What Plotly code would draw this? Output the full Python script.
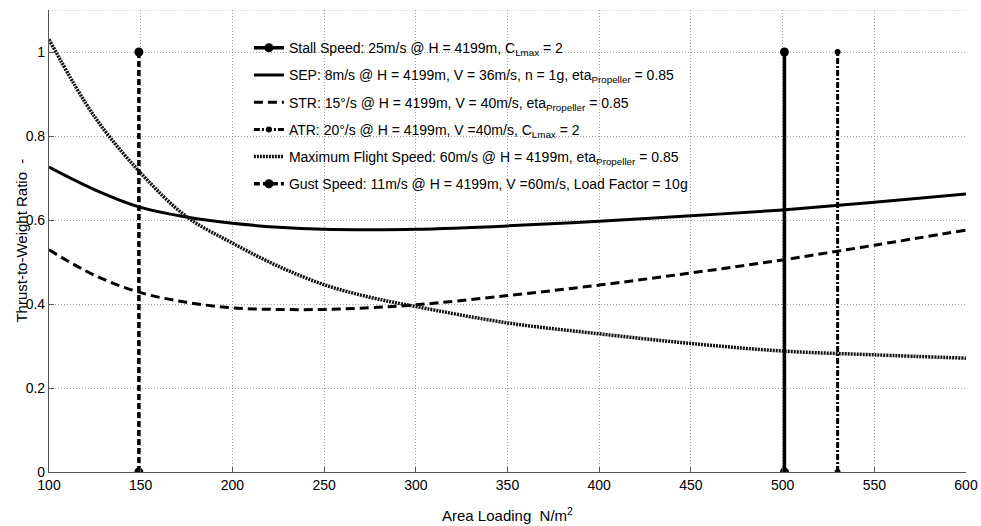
import plotly.graph_objects as go

# Wing (area) loading samples, N/m^2
area_loading = [100, 125, 150, 175, 200, 225, 250, 275, 300, 350, 400, 450, 500, 550, 600]

# Thrust-to-weight ratio curves
sep_tw = [0.726, 0.672, 0.630, 0.607, 0.592, 0.583, 0.578, 0.577, 0.578, 0.586, 0.597, 0.610, 0.624, 0.642, 0.662]
str_tw = [0.529, 0.468, 0.427, 0.404, 0.391, 0.387, 0.387, 0.391, 0.398, 0.420, 0.445, 0.474, 0.505, 0.540, 0.576]
vmax_tw = [1.030, 0.845, 0.712, 0.608, 0.545, 0.490, 0.446, 0.416, 0.394, 0.355, 0.329, 0.306, 0.288, 0.279, 0.271]

# Vertical constraint lines (area loading limits)
stall_x = [501, 501]
atr_x = [530, 530]
gust_x = [149, 149]
vline_y = [0, 1]

x_ticks = [100, 150, 200, 250, 300, 350, 400, 450, 500, 550, 600]
y_ticks = [0, 0.2, 0.4, 0.6, 0.8, 1.0]
y_tick_labels = ["0", "0.2", "0.4", "0.6", "0.8", "1"]

FONT = "Liberation Sans, Arial, sans-serif"

fig = go.Figure()

fig.add_trace(go.Scatter(
    x=stall_x, y=vline_y, mode="lines+markers", legendgroup="g1",
    name="Stall Speed: 25m/s @ H = 4199m, C<sub>Lmax</sub> = 2",
    line=dict(color="black", width=3.5),
    marker=dict(symbol="circle", size=9, color="black")))

fig.add_trace(go.Scatter(
    x=area_loading, y=sep_tw, mode="lines", legendgroup="g2",
    name="SEP: 8m/s @ H = 4199m, V = 36m/s, n = 1g, eta<sub>Propeller</sub> = 0.85",
    line=dict(color="black", width=3, shape="spline")))

fig.add_trace(go.Scatter(
    x=area_loading, y=str_tw, mode="lines", legendgroup="g3",
    name="STR: 15°/s @ H = 4199m, V = 40m/s, eta<sub>Propeller</sub> = 0.85",
    line=dict(color="black", width=3, dash="9px,5px", shape="spline")))

fig.add_trace(go.Scatter(
    x=atr_x, y=vline_y, mode="lines+markers", legendgroup="g4",
    name="ATR: 20°/s @ H = 4199m, V =40m/s, C<sub>Lmax</sub> = 2",
    line=dict(color="black", width=3, dash="6px,2px,2px,2px"),
    marker=dict(symbol="circle", size=6, color="black")))

fig.add_trace(go.Scatter(
    x=area_loading, y=vmax_tw, mode="lines", legendgroup="g5",
    name="Maximum Flight Speed: 60m/s @ H = 4199m, eta<sub>Propeller</sub> = 0.85",
    line=dict(color="#111111", width=3.5, dash="2px,1px", shape="spline")))

fig.add_trace(go.Scatter(
    x=gust_x, y=vline_y, mode="lines+markers", legendgroup="g6",
    name="Gust Speed: 11m/s @ H = 4199m, V =60m/s, Load Factor = 10g",
    line=dict(color="black", width=3.5, dash="6px,3px"),
    marker=dict(symbol="circle", size=9, color="black")))

fig.add_shape(type="line", xref="paper", yref="y", x0=0, x1=1, y0=1.1, y1=1.1,
              line=dict(color="#a0a0a0", width=1, dash="1px,2px"))

fig.add_annotation(text="Thrust-to-Weight Ratio  -", xref="paper", yref="paper",
                   x=-0.031, y=0.5, xanchor="center", yanchor="middle",
                   textangle=-90, showarrow=False, font=dict(family=FONT, size=15, color="black"))
fig.add_annotation(text="Area Loading  N/m<sup>2</sup>", xref="paper", yref="paper",
                   x=0.5, y=-0.093, xanchor="center", yanchor="middle",
                   showarrow=False, font=dict(family=FONT, size=15, color="black"))

axis_common = dict(showgrid=True, gridcolor="#a0a0a0", griddash="1px,2px", gridwidth=1,
                   showline=True, linecolor="#555555", linewidth=1.2,
                   ticks="inside", ticklen=5, tickcolor="#555555",
                   zeroline=False, automargin=False, ticklabeloverflow="allow",
                   tickfont=dict(family=FONT, size=14, color="black"))

fig.update_xaxes(range=[100, 600], tickvals=x_ticks, **axis_common)
fig.update_yaxes(range=[0, 1.1], tickvals=y_ticks, ticktext=y_tick_labels, **axis_common)

fig.update_layout(
    width=981, height=526,
    margin=dict(l=49, r=15, t=10, b=54, autoexpand=False),
    plot_bgcolor="white", paper_bgcolor="white",
    font=dict(family=FONT, size=14, color="black"),
    showlegend=True,
    legend=dict(x=0.218, y=0.952, xanchor="left", yanchor="top",
                bgcolor="rgba(255,255,255,0)", borderwidth=0,
                font=dict(family=FONT, size=14, color="black"),
                itemwidth=30, tracegroupgap=6),
)

fig.write_html("out.html", config={"displayModeBar": False})

# remove default page margin so the figure fills the 981x526 window exactly
with open("out.html", "r", encoding="utf-8") as f:
    html = f.read()
html = html.replace("<head>", "<head><style>html,body{margin:0;padding:0;overflow:hidden;}</style>", 1)
with open("out.html", "w", encoding="utf-8") as f:
    f.write(html)
